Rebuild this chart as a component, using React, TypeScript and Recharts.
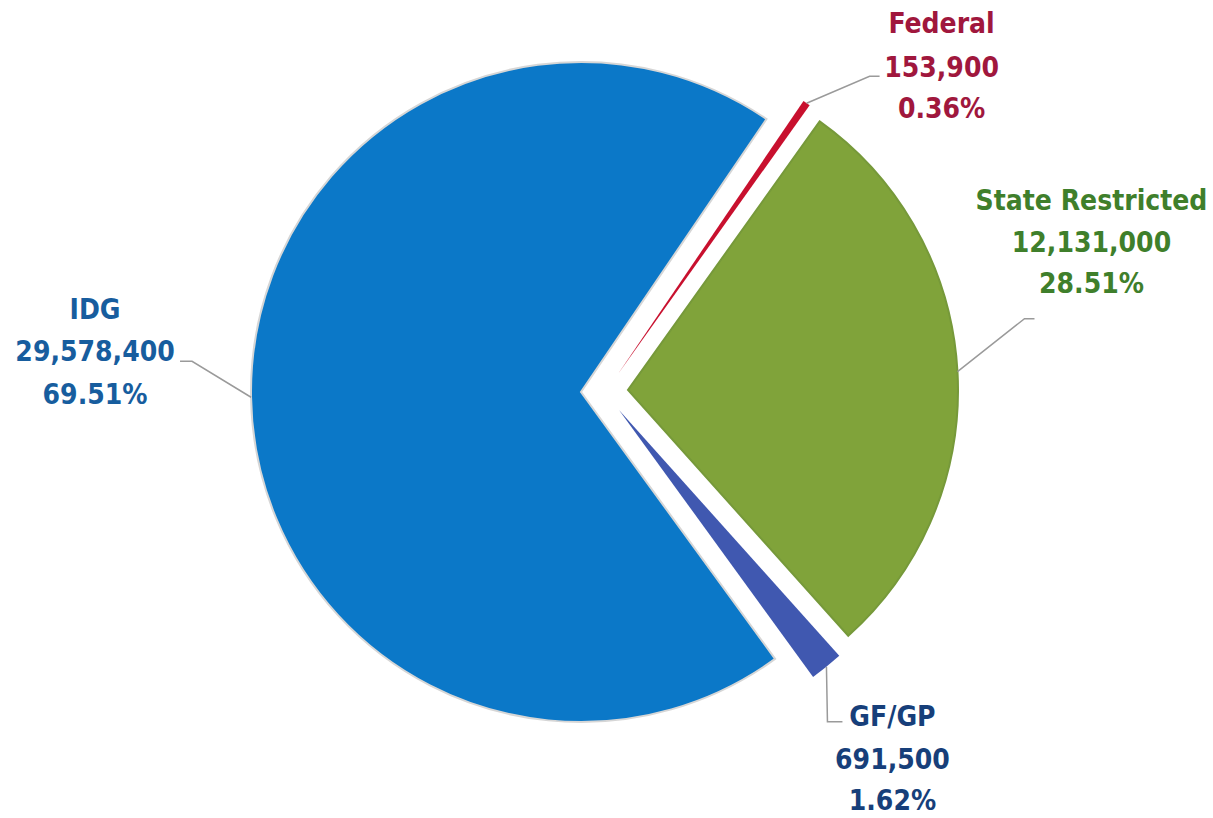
import { PieChart, Pie, Cell } from 'recharts';

// Funding sources, clockwise starting from the top-right sliver
const sources = ['Federal', 'State Restricted', 'GF/GP', 'IDG'];
const amounts = [153900, 12131000, 691500, 29578400];
const percentLabels = ['0.36%', '28.51%', '1.62%', '69.51%'];

const sliceColors = ['#c8102e', '#80a33a', '#4058b0', '#0b78c8'];
const textColors = ['#a0173d', '#3f7f2b', '#173f7a', '#175d9e'];
const strokeColors = ['none', '#76993a', 'none', '#d6d6d6'];

const data = sources.map((name, i) => ({ name, value: amounts[i] }));

const W = 1213;
const H = 818;
const CX = 581;
const CY = 392;
const R = 330;
const START = 55.8;

// explode offset for each slice's pie center
const explode = [
  [37, -18],
  [47, -2],
  [38, 18],
  [0, 0],
];

// leader line + text placement, relative to the slice's outer mid point
const labelLayout = [
  { line: [[63, -27], [73, -27]], tx: 135, base: [-70, -26, 15] },
  { line: [[67, -53], [77, -53]], tx: 134, base: [-162, -120, -79] },
  { line: [[1, 55], [16, 55]], tx: 66, base: [59, 102, 143] },
  { line: [[-59, -36], [-71, -36]], tx: -156, base: [-78, -36, 7] },
];

const fmt = (v: number) => v.toLocaleString('en-US');

const RAD = Math.PI / 180;

function makeLabel(target: number) {
  return (props: any) => {
    const { cx, cy, midAngle, outerRadius, index } = props;
    if (index !== target) return null;
    const ax = cx + outerRadius * Math.cos(-midAngle * RAD);
    const ay = cy + outerRadius * Math.sin(-midAngle * RAD);
    const lay = labelLayout[index];
    const pts = [[ax, ay], ...lay.line.map(([dx, dy]) => [ax + dx, ay + dy])];
    const lines = [sources[index], fmt(amounts[index]), percentLabels[index]];
    return (
      <g>
        <polyline
          points={pts.map((p) => p.join(',')).join(' ')}
          fill="none"
          stroke="#9a9a9a"
          strokeWidth={1.5}
        />
        {lines.map((t, k) => (
          <text
            key={k}
            x={ax + lay.tx}
            y={ay + lay.base[k]}
            textAnchor="middle"
            fill={textColors[index]}
            style={{
              fontFamily: "'DejaVu Sans Condensed', 'DejaVu Sans', sans-serif",
              fontStretch: 'condensed',
              fontWeight: 700,
              fontSize: 28,
            }}
          >
            {t}
          </text>
        ))}
      </g>
    );
  };
}

export default function App() {
  return (
    <div style={{ position: 'absolute', left: 0, top: 0, width: W, height: H, background: '#fff' }}>
      <PieChart width={W} height={H} margin={{ top: 0, right: 0, bottom: 0, left: 0 }}>
        {[3, 1, 2, 0].map((target) => (
          <Pie
            key={target}
            data={data}
            dataKey="value"
            nameKey="name"
            cx={CX + explode[target][0]}
            cy={CY + explode[target][1]}
            outerRadius={R}
            startAngle={START}
            endAngle={START - 360}
            isAnimationActive={false}
            labelLine={false}
            label={makeLabel(target)}
          >
            {data.map((d, i) => (
              <Cell
                key={d.name}
                fill={i === target ? sliceColors[i] : 'none'}
                stroke={i === target ? strokeColors[i] : 'none'}
                strokeWidth={i === target ? 2 : 0}
              />
            ))}
          </Pie>
        ))}
      </PieChart>
    </div>
  );
}
